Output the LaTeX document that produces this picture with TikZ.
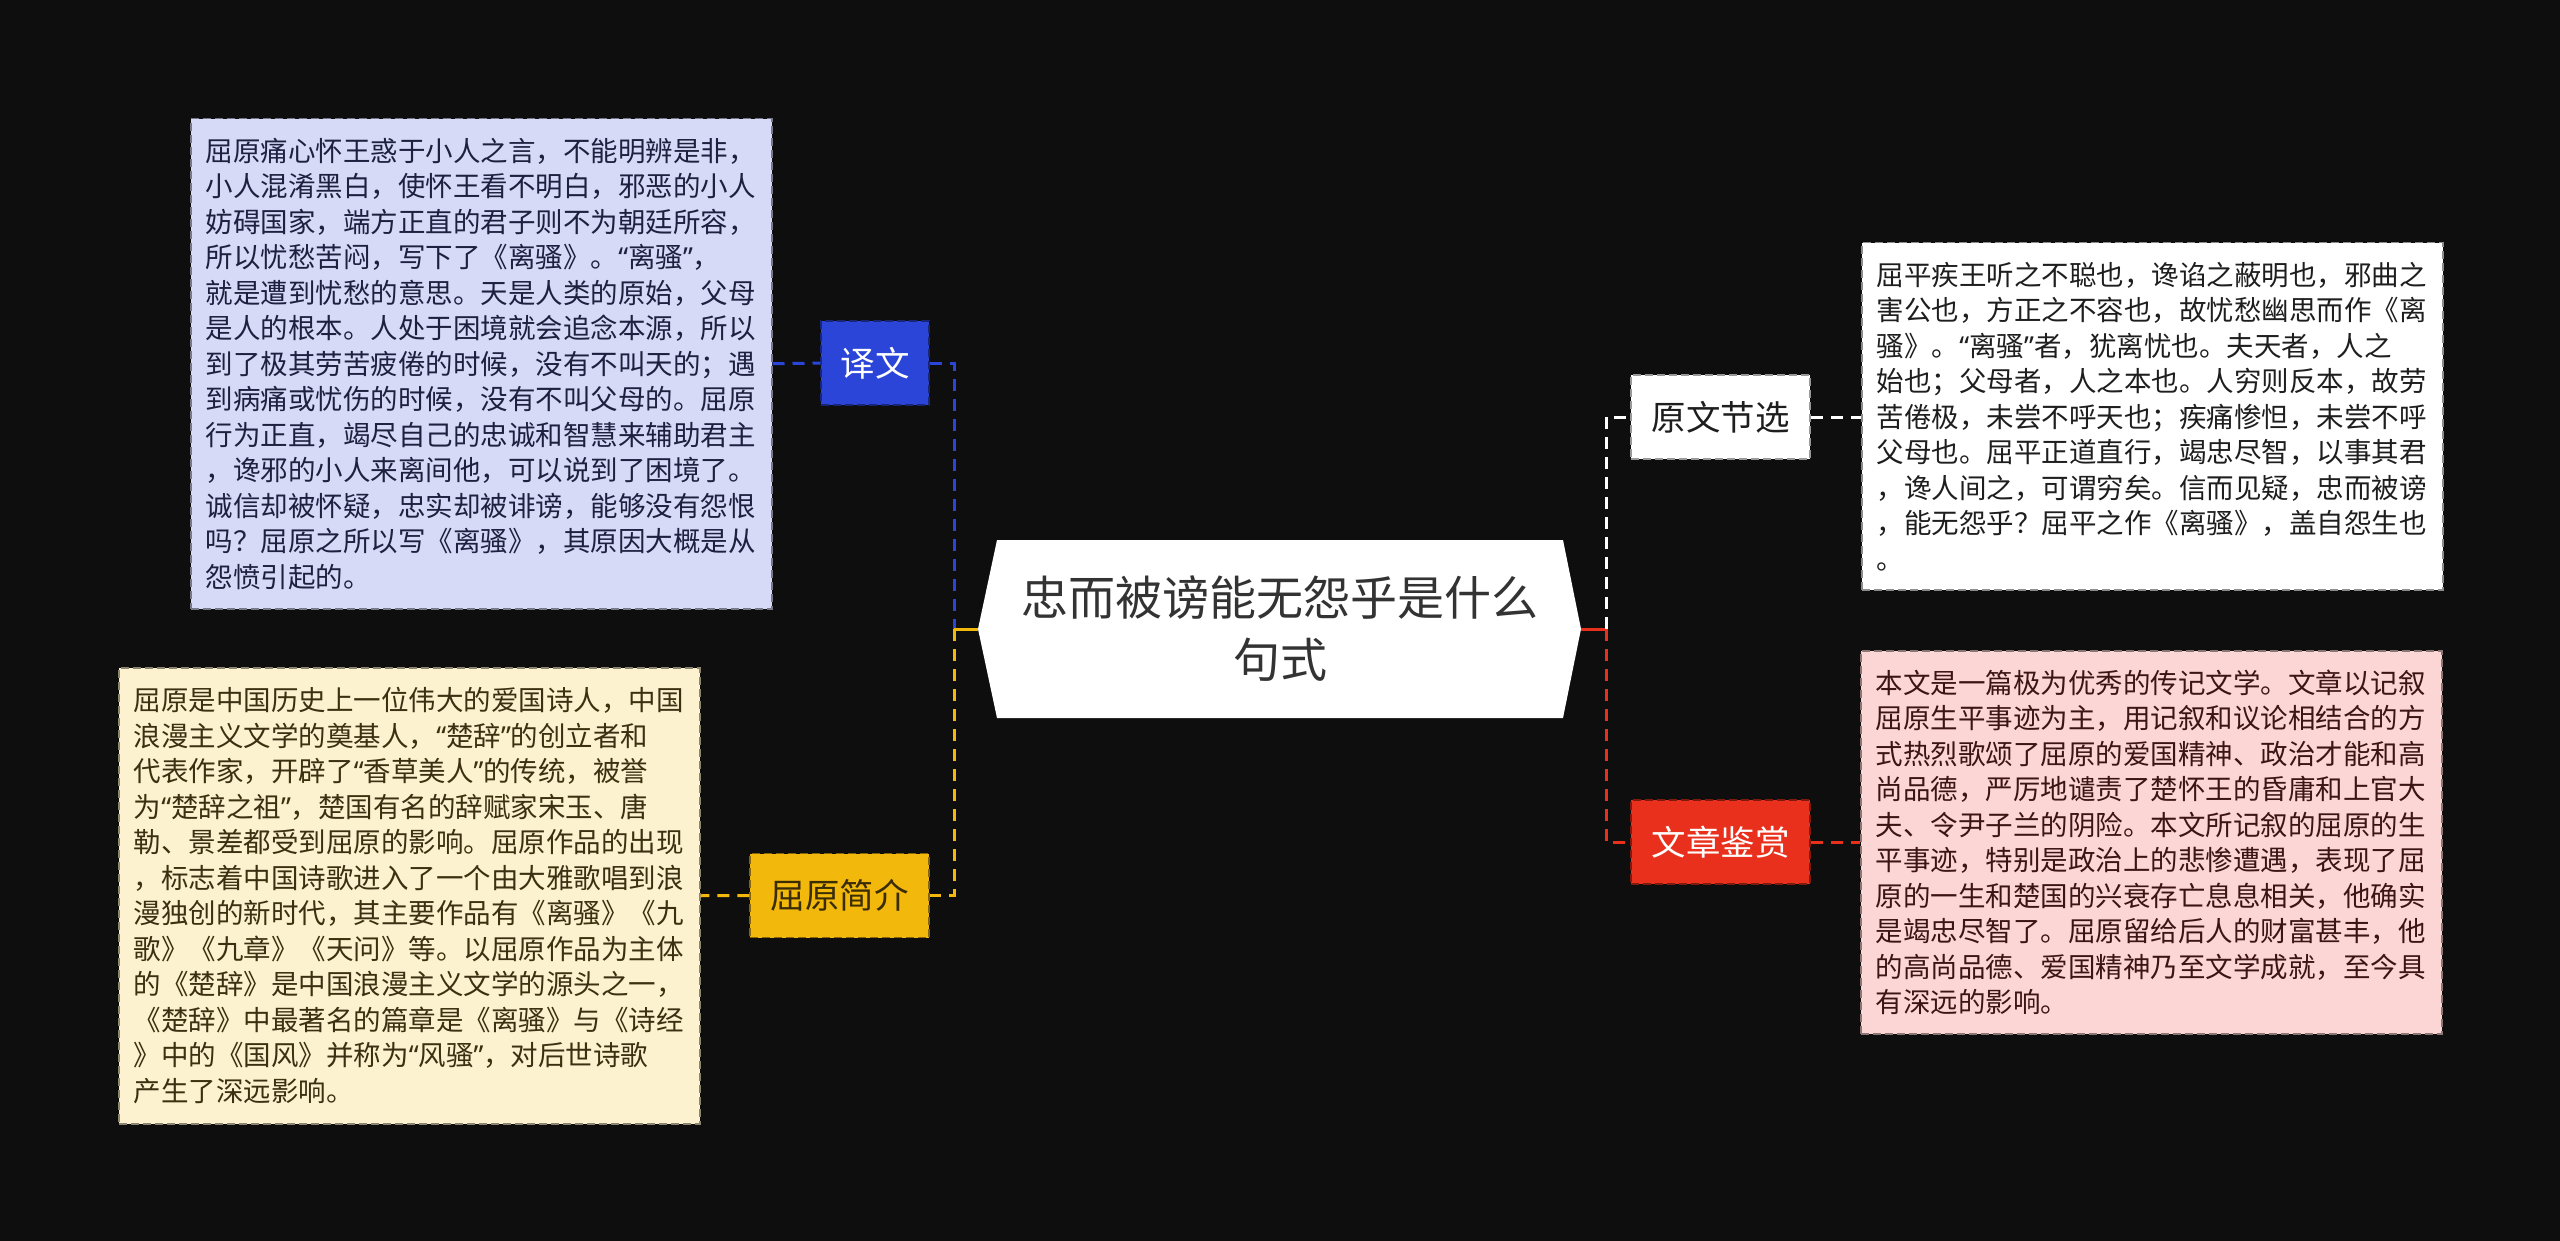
\documentclass[tikz,border=0pt]{standalone}
\usepackage{fontspec}
\setmainfont{Noto Sans CJK SC}
\newfontfamily\latinq{Noto Sans}
\newcommand\myoq{{\latinq “}}
\newcommand\mycq{{\latinq ”}}
\definecolor{bg}{HTML}{0E0E0E}
\definecolor{blueN}{HTML}{2A45D8}
\definecolor{blueF}{HTML}{D7DAF6}
\definecolor{blueT}{HTML}{1E2040}
\definecolor{yelN}{HTML}{F2B80C}
\definecolor{yelT}{HTML}{3A2C05}
\definecolor{yelF}{HTML}{FCF2D0}
\definecolor{yelBT}{HTML}{3B3112}
\definecolor{redN}{HTML}{E8301C}
\definecolor{redF}{HTML}{FCD6D4}
\definecolor{redT}{HTML}{3C1414}
\definecolor{whT}{HTML}{1E1E1E}
\definecolor{rootT}{HTML}{333333}
\begin{document}
\begin{tikzpicture}[x=1pt,y=-1pt,
  conn/.style={line width=3pt, dash pattern=on 12pt off 8pt},
  solidconn/.style={line width=3pt},
  lbl/.style={minimum width=179pt, minimum height=84pt, inner sep=0pt, draw, line width=1.5pt, dash pattern=on 8pt off 4pt, font=\fontsize{34.5}{40}\selectfont},
  txtbox/.style={anchor=north west, draw, line width=1.5pt, dash pattern=on 8pt off 4pt, text width=551pt, inner xsep=15pt, inner ysep=0pt, align=left, font=\fontsize{27.5}{35.5}\selectfont},
]
\useasboundingbox (0,0) rectangle (2560,1241);
\fill[bg] (0,0) rectangle (2560,1241);

% text boxes
\node[txtbox, fill=blueF, draw=blueF!55!black, text=blueT, minimum height=490pt] (tr) at (190,118) {屈原痛心怀王惑于小人之言，不能明辨是非，\\小人混淆黑白，使怀王看不明白，邪恶的小人\\妨碍国家，端方正直的君子则不为朝廷所容，\\所以忧愁苦闷，写下了《离骚》。\myoq 离骚\mycq ，\\就是遭到忧愁的意思。天是人类的原始，父母\\是人的根本。人处于困境就会追念本源，所以\\到了极其劳苦疲倦的时候，没有不叫天的；遇\\到病痛或忧伤的时候，没有不叫父母的。屈原\\行为正直，竭尽自己的忠诚和智慧来辅助君主\\，谗邪的小人来离间他，可以说到了困境了。\\诚信却被怀疑，忠实却被诽谤，能够没有怨恨\\吗？屈原之所以写《离骚》，其原因大概是从\\怨愤引起的。};

\node[txtbox, fill=yelF, draw=yelF!55!black, text=yelBT, minimum height=456pt] (bio) at (118,667) {屈原是中国历史上一位伟大的爱国诗人，中国\\浪漫主义文学的奠基人，\myoq 楚辞\mycq 的创立者和\\代表作家，开辟了\myoq 香草美人\mycq 的传统，被誉\\为\myoq 楚辞之祖\mycq ，楚国有名的辞赋家宋玉、唐\\勒、景差都受到屈原的影响。屈原作品的出现\\，标志着中国诗歌进入了一个由大雅歌唱到浪\\漫独创的新时代，其主要作品有《离骚》《九\\歌》《九章》《天问》等。以屈原作品为主体\\的《楚辞》是中国浪漫主义文学的源头之一，\\《楚辞》中最著名的篇章是《离骚》与《诗经\\》中的《国风》并称为\myoq 风骚\mycq ，对后世诗歌\\产生了深远影响。};

\node[txtbox, fill=white, draw=black!45, text=whT, minimum height=347pt] (orig) at (1861,242) {屈平疾王听之不聪也，谗谄之蔽明也，邪曲之\\害公也，方正之不容也，故忧愁幽思而作《离\\骚》。\myoq 离骚\mycq 者，犹离忧也。夫天者，人之\\始也；父母者，人之本也。人穷则反本，故劳\\苦倦极，未尝不呼天也；疾痛惨怛，未尝不呼\\父母也。屈平正道直行，竭忠尽智，以事其君\\，谗人间之，可谓穷矣。信而见疑，忠而被谤\\，能无怨乎？屈平之作《离骚》，盖自怨生也\\。};

\node[txtbox, fill=redF, draw=redF!55!black, text=redT, minimum height=383pt] (app) at (1860,650) {本文是一篇极为优秀的传记文学。文章以记叙\\屈原生平事迹为主，用记叙和议论相结合的方\\式热烈歌颂了屈原的爱国精神、政治才能和高\\尚品德，严厉地谴责了楚怀王的昏庸和上官大\\夫、令尹子兰的阴险。本文所记叙的屈原的生\\平事迹，特别是政治上的悲惨遭遇，表现了屈\\原的一生和楚国的兴衰存亡息息相关，他确实\\是竭忠尽智了。屈原留给后人的财富甚丰，他\\的高尚品德、爱国精神乃至文学成就，至今具\\有深远的影响。};

% branch labels
\node[lbl, minimum width=108pt, fill=blueN, draw=blueN!55!black, text=white] (yw) at (875,363) {译文};
\node[lbl, fill=yelN, draw=yelN!55!black, text=yelT] (jj) at (839.5,895.5) {屈原简介};
\node[lbl, fill=white, draw=black!40, text=whT] (yx) at (1720.5,417) {原文节选};
\node[lbl, fill=redN, draw=redN!55!black, text=white] (js) at (1720.5,842) {文章鉴赏};

% root
\fill[white] (978,629) coordinate (cL) -- (997,540) -- (1563,540) -- (1581,629) coordinate (cR) -- (1563,718) -- (997,718) -- cycle;
\node[text=rootT, align=center, font=\fontsize{47}{62}\selectfont] (root) at (1280,629) {忠而被谤能无怨乎是什么\\句式};

\coordinate (jL) at (954,629);
\coordinate (jR) at (1606,629);

% connectors
\draw[conn, blueN] (tr.east) -- (yw.west);
\draw[conn, blueN] (yw.east) -| (jL);
\draw[solidconn, yelN] (jL) -- (cL);
\draw[conn, yelN] (jL) |- (jj.east);
\draw[conn, yelN] (jj.west) -- (bio.east);
\draw[solidconn, redN] (cR) -- (jR);
\draw[conn, white] (jR) |- (yx.west);
\draw[conn, redN] (jR) |- (js.west);
\draw[conn, white] (yx.east) -- (yx.east -| orig.west);
\draw[conn, redN] (js.east) -- (js.east -| app.west);
\end{tikzpicture}
\end{document}
